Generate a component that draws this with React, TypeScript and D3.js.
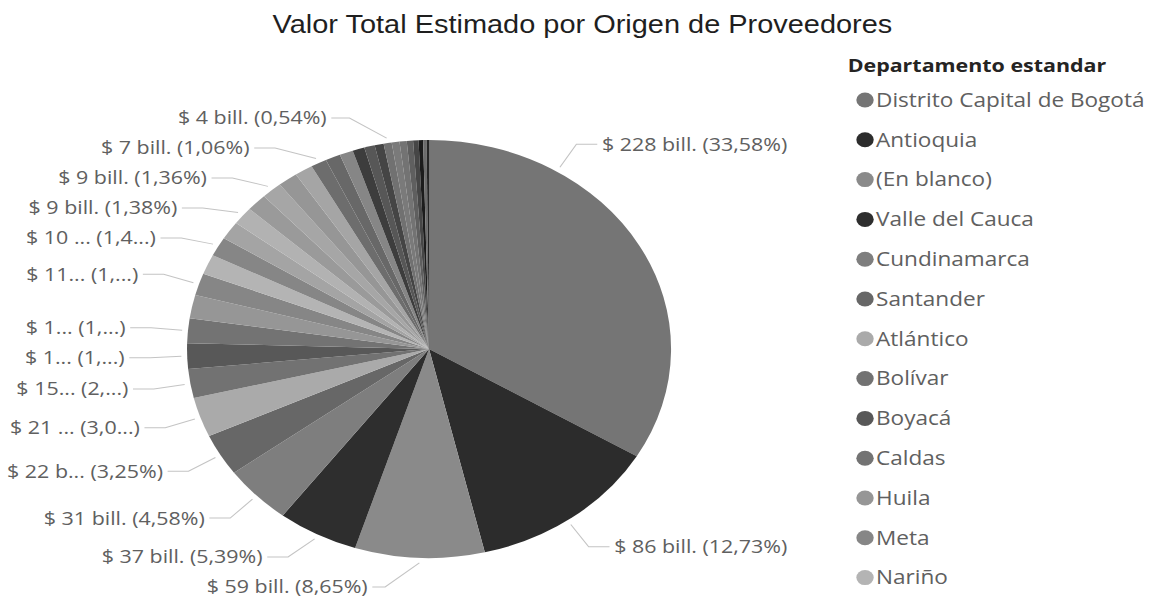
import React, { useEffect, useRef } from 'react';
import * as d3 from 'd3';

// Departments, in the order the slices and the legend use (descending value)
const departments = [
  'Distrito Capital de Bogotá', 'Antioquia', '(En blanco)', 'Valle del Cauca', 'Cundinamarca',
  'Santander', 'Atlántico', 'Bolívar', 'Boyacá', 'Caldas', 'Huila', 'Meta', 'Nariño',
  'Tolima', 'Norte de Santander', 'Magdalena', 'Cesar', 'Córdoba', 'Risaralda', 'Cauca',
  'Quindío', 'La Guajira', 'Sucre', 'Casanare', 'Chocó', 'Caquetá', 'Putumayo', 'Arauca',
  'San Andrés', 'Amazonas', 'Guaviare', 'Vichada', 'Guainía', 'Vaupés',
];

// Valor total estimado, in billions
const values = [
  228.0, 86.4, 58.7, 36.6, 31.1, 22.1, 20.8, 15.2, 13.4, 13.0, 12.3, 11.5, 10.5,
  10.1, 9.6, 9.37, 9.3, 9.23, 8.9, 8.2, 7.2, 6.8, 6.1, 5.4, 4.75, 4.1, 3.67, 3.5,
  3.25, 2.85, 2.45, 2.05, 1.55, 1.1,
];

// Data labels as Power BI shows them (truncated); null = label hidden
const dataLabels = [
  '$ 228 bill. (33,58%)', '$ 86 bill. (12,73%)', '$ 59 bill. (8,65%)', '$ 37 bill. (5,39%)',
  '$ 31 bill. (4,58%)', '$ 22 b... (3,25%)', '$ 21 ... (3,0...)', '$ 15... (2,...)',
  '$ 1... (1,...)', '$ 1... (1,...)', null, '$ 11... (1,...)', null, '$ 10 ... (1,4...)',
  null, '$ 9 bill. (1,38%)', null, '$ 9 bill. (1,36%)', null, null, '$ 7 bill. (1,06%)',
  null, null, null, null, null, '$ 4 bill. (0,54%)', null, null, null, null, null, null, null,
];

// Power BI default theme colours; the reference is a greyscale print of them
const palette = [
  '#118DFF', '#12239E', '#E66C37', '#6B007B', '#E044A7', '#744EC2', '#D9B300', '#D64550',
  '#197278', '#1AAB40', '#15C6F4', '#4092FF', '#FFA058', '#BE5DC9', '#F472D0', '#B5A1FF',
  '#C4A200', '#FF8080', '#00DBBC', '#5BD667', '#0091D5', '#4668C5', '#FF6300', '#99008A',
  '#EC008C', '#533285', '#99700A', '#FF4141', '#1F9A85', '#25891C', '#0057A2', '#002050',
  '#C94F0F', '#450F54',
];

const title = 'Valor Total Estimado por Origen de Proveedores';
const legendTitle = 'Departamento estandar';

const width = 1156;
const height = 599;
const SX = 1.158; // the picture is stretched horizontally

const toGrey = (c: string) => {
  const { r, g, b } = d3.rgb(c);
  const v = Math.round(0.299 * r + 0.587 * g + 0.114 * b);
  return d3.rgb(v, v, v).formatHex();
};

const App = () => {
  const svgRef = useRef<SVGSVGElement>(null);

  useEffect(() => {
    const root = d3.select(svgRef.current);
    root.selectAll('*').remove();

    // everything is laid out in unstretched units, then scaled in x
    const g = root.append('g').attr('transform', `scale(${SX},1)`);

    const cx = 370.5;
    const cy = 349;
    const r = 209;
    const ringR = r + 32; // where leader lines bend
    const elbow = 18; // horizontal part of a leader line
    const labelSize = 18.5;
    const labelFont = `${labelSize}px "Open Sans"`;
    const xMax = 680; // right bound of the plot area
    const yMin = 118;
    const yMax = 587;
    const minGap = 30;

    const color = d3.scaleOrdinal<string, string>().domain(departments).range(palette.map(toGrey));

    const ctx = document.createElement('canvas').getContext('2d')!;
    ctx.font = labelFont;
    const textW = (s: string) => ctx.measureText(s).width;

    g.append('text')
      .attr('x', 503)
      .attr('y', 33)
      .attr('text-anchor', 'middle')
      .attr('font-family', '"Liberation Sans", Arial, sans-serif')
      .attr('font-size', 25)
      .attr('fill', '#1f1f1f')
      .text(title);

    const data = departments.map((d, i) => ({ name: d, value: values[i], label: dataLabels[i] }));

    const pie = d3.pie<any>().value((d) => d.value).sort(null);
    const arcs = pie(data);
    const arc = d3.arc<any>().innerRadius(0).outerRadius(r);

    const pieG = g.append('g').attr('transform', `translate(${cx},${cy})`);
    pieG
      .selectAll('path')
      .data(arcs)
      .enter()
      .append('path')
      .attr('d', arc)
      .attr('fill', (d) => color(d.data.name));

    // label layout: angle -> y on the ring, then spread on each side
    type Lab = { text: string; a: number; y: number; right: boolean; w: number };
    const labs: Lab[] = [];
    arcs.forEach((d) => {
      if (!d.data.label) return;
      const text = d.data.label as string;
      const w = textW(text);
      let a = (d.startAngle + d.endAngle) / 2;
      const right = a < Math.PI;
      if (right) {
        const end = cx + ringR * Math.sin(a) + elbow + 4 + w;
        if (end > xMax) {
          const s = Math.max(0, Math.min(1, (xMax - w - elbow - 4 - cx) / ringR));
          a = a < Math.PI / 2 ? Math.asin(s) : Math.PI - Math.asin(s);
          a = Math.max(d.startAngle + 0.02, Math.min(d.endAngle - 0.02, a));
        }
      }
      labs.push({ text, a, y: cy - ringR * Math.cos(a), right, w });
    });

    const spread = (side: Lab[]) => {
      side.sort((p, q) => p.y - q.y);
      for (let i = 0; i < side.length; i++) {
        const lo = i === 0 ? yMin : side[i - 1].y + minGap;
        side[i].y = Math.max(side[i].y, lo);
      }
      for (let i = side.length - 1; i >= 0; i--) {
        const hi = i === side.length - 1 ? yMax : side[i + 1].y - minGap;
        side[i].y = Math.min(side[i].y, hi);
      }
    };
    spread(labs.filter((l) => l.right));
    spread(labs.filter((l) => !l.right));

    const labG = g.append('g').attr('transform', `translate(${cx},0)`);
    labs.forEach((l) => {
      const dir = l.right ? 1 : -1;
      const dy = l.y - cy;
      const bx = dir * Math.sqrt(Math.max(0, ringR * ringR - dy * dy));
      // shorter elbow close to the top and bottom of the pie
      const e = elbow * Math.min(1, Math.abs(bx) / 120 + 0.3);
      const p1: [number, number] = [Math.sin(l.a) * (r + 5), cy - Math.cos(l.a) * (r + 5)];
      const p2: [number, number] = [bx, l.y];
      const p3: [number, number] = [bx + dir * e, l.y];
      labG
        .append('path')
        .attr('d', d3.line()([p1, p2, p3]))
        .attr('fill', 'none')
        .attr('stroke', '#c4c4c4')
        .attr('stroke-width', 1);
      labG
        .append('text')
        .attr('x', p3[0] + dir * 4)
        .attr('y', l.y)
        .attr('dy', '0.35em')
        .attr('text-anchor', l.right ? 'start' : 'end')
        .style('font', labelFont)
        .attr('fill', '#606060')
        .text(l.text);
    });

    // legend (only the entries that fit are visible)
    const legend = g.append('g');
    legend
      .append('text')
      .attr('x', 732)
      .attr('y', 72)
      .attr('font-family', '"Open Sans", sans-serif')
      .attr('font-weight', 700)
      .attr('font-size', 18.5)
      .attr('fill', '#252423')
      .text(legendTitle);

    const rowY = d3.scaleLinear().domain([0, 1]).range([100, 139.8]);
    const shown = departments.filter((_, i) => rowY(i) + 10 < height);
    const rows = legend
      .selectAll('g.item')
      .data(shown)
      .enter()
      .append('g')
      .attr('class', 'item')
      .attr('transform', (_, i) => `translate(0,${rowY(i)})`);
    rows.append('circle').attr('cx', 747).attr('r', 7.5).attr('fill', (d) => color(d));
    rows
      .append('text')
      .attr('x', 756.5)
      .attr('dy', '0.35em')
      .attr('font-family', '"Open Sans", sans-serif')
      .attr('font-size', 19.5)
      .attr('fill', '#606060')
      .text((d) => d);
  }, []);

  return (
    <svg
      ref={svgRef}
      width={width}
      height={height}
      style={{ position: 'absolute', left: 0, top: 0, background: '#fff' }}
    />
  );
};

export default App;
